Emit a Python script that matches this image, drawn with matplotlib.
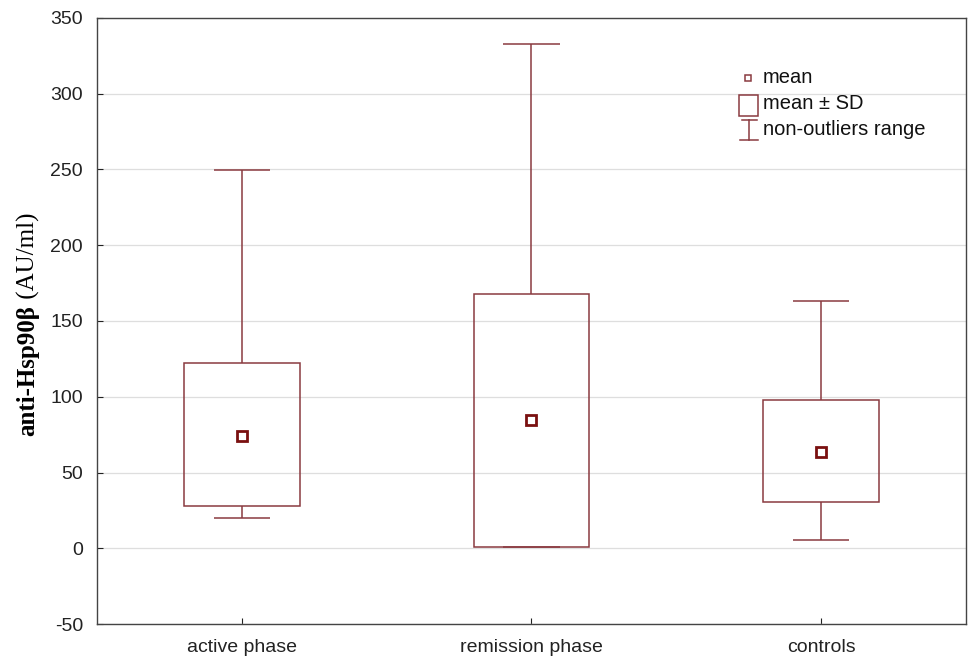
# box chart: anti-Hsp90b levels by group (mean, mean +- SD, non-outlier range)
import matplotlib
matplotlib.use('Agg')
import matplotlib.pyplot as plt
from matplotlib.patches import Rectangle

groups = ['active phase', 'remission phase', 'controls']
means = [74, 84.5, 63.5]
sd_low = [28, 1, 30.5]
sd_high = [122.3, 167.8, 97.9]
range_min = [20, 1, 5.4]
range_max = [249.7, 332.8, 163.3]
yticks = [-50, 0, 50, 100, 150, 200, 250, 300, 350]

box_col = '#8a3a40'
mean_col = '#7a1010'

plt.rcParams['font.family'] = ['Liberation Sans', 'DejaVu Sans']
plt.rcParams['axes.unicode_minus'] = False

fig = plt.figure(figsize=(9.69, 6.59), dpi=100)
ax = fig.add_axes([0.1001, 0.0531, 0.8968, 0.9196])

x = list(range(len(groups)))
box_w = 0.4
cap_w = 0.195

ax.bar(x, [h - l for h, l in zip(sd_high, sd_low)], bottom=sd_low, width=box_w,
       fill=False, edgecolor=box_col, linewidth=1.1, zorder=3)
ax.vlines(x, sd_high, range_max, color=box_col, linewidth=1.1, zorder=3)
ax.vlines(x, range_min, sd_low, color=box_col, linewidth=1.1, zorder=3)
ax.hlines(range_max, [i - cap_w / 2 for i in x], [i + cap_w / 2 for i in x],
          color=box_col, linewidth=1.1, zorder=3)
ax.hlines(range_min, [i - cap_w / 2 for i in x], [i + cap_w / 2 for i in x],
          color=box_col, linewidth=1.1, zorder=3)
ax.plot(x, means, linestyle='none', marker='s', markersize=7.5,
        markerfacecolor='white', markeredgecolor=mean_col, markeredgewidth=2, zorder=4)

ax.set_xlim(-0.5, 2.5)
ax.set_ylim(-50, 350)
ax.set_yticks(yticks)
ax.set_xticks(x)
ax.set_xticklabels(groups)
ax.yaxis.grid(True, color='#dedede', linewidth=0.9, zorder=0)
ax.set_axisbelow(True)
ax.tick_params(axis='both', direction='in', labelsize=14, colors='#222222', length=4)
ax.tick_params(axis='x', pad=11)
ax.tick_params(axis='y', pad=10)
for s in ax.spines.values():
    s.set_color('#444444')
    s.set_linewidth(1.0)

# y label: bold part + regular part, centred at ~324 px from top
t1 = fig.text(0.029, 0.5, 'anti-Hsp90β', rotation=90, ha='center', va='bottom',
              family='Liberation Serif', weight='bold', fontsize=18)
t2 = fig.text(0.029, 0.5, ' (AU/ml)', rotation=90, ha='center', va='bottom',
              family='Liberation Serif', fontsize=18)
fig.canvas.draw()
r = fig.canvas.get_renderer()
h1 = t1.get_window_extent(r).height
h2 = t2.get_window_extent(r).height
start = (659 - 324) - (h1 + h2) / 2.0
t1.set_y(start / 659.0)
t2.set_y((start + h1) / 659.0)

# legend drawn by hand
def fx(px):
    return (px - 97) / 869.0

def fy(py):
    return (624 - py) / 606.0

ax.plot([fx(748)], [fy(78)], transform=ax.transAxes, marker='s', markersize=5,
        markerfacecolor='white', markeredgecolor=box_col, markeredgewidth=1.1, clip_on=False)
ax.add_patch(Rectangle((fx(739), fy(116)), fx(758) - fx(739), fy(95) - fy(116),
                       transform=ax.transAxes, fill=False, edgecolor=box_col, linewidth=1.1))
ax.plot([fx(749), fx(749)], [fy(120), fy(140)], transform=ax.transAxes, color=box_col, linewidth=1.1)
ax.plot([fx(742), fx(757)], [fy(120), fy(120)], transform=ax.transAxes, color=box_col, linewidth=1.1)
ax.plot([fx(740), fx(758)], [fy(140), fy(140)], transform=ax.transAxes, color=box_col, linewidth=1.1)
for txt, py in [('mean', 78), ('mean ± SD', 104), ('non-outliers range', 130)]:
    ax.text(fx(763), fy(py), txt, transform=ax.transAxes, ha='left', va='center',
            fontsize=14.5, color='#111111')

fig.savefig('out.png', dpi=100)
